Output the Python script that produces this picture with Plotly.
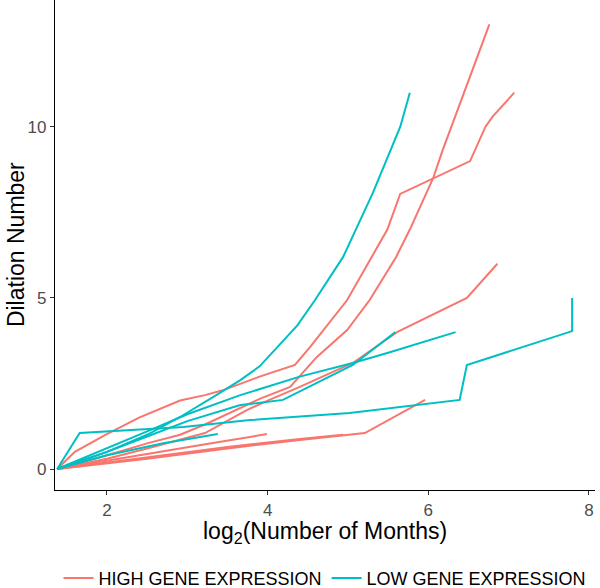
import plotly.graph_objects as go

# ---- data ----
# HIGH GENE EXPRESSION subjects
high_1_x = [1.38, 2.0, 2.5, 2.91, 3.22, 3.66, 3.9, 4.28, 4.61, 4.99, 5.27, 5.6, 5.77, 6.06, 6.18, 6.46, 6.76]
high_1_y = [0, 0.4, 0.75, 1.0, 1.3, 1.78, 2.05, 2.4, 3.27, 4.06, 4.94, 6.2, 7.0, 8.5, 9.33, 11.1, 13.0]
high_2_x = [1.38, 1.6, 1.98, 2.4, 2.91, 3.22, 3.44, 3.9, 4.34, 4.53, 4.99, 5.49, 5.65, 6.52, 6.71, 6.8, 7.07]
high_2_y = [0, 0.5, 1.0, 1.5, 2.0, 2.16, 2.3, 2.7, 3.04, 3.57, 4.94, 7.0, 8.04, 9.0, 10.0, 10.3, 11.0]
high_3_x = [1.38, 2.0, 2.5, 2.91, 3.22, 3.74, 4.0, 4.4, 5.06, 5.61, 6.48, 6.86]
high_3_y = [0, 0.3, 0.6, 0.85, 1.05, 1.72, 2.0, 2.4, 3.1, 4.0, 5.0, 6.0]
high_4_x = [1.38, 2.5, 3.5, 4.4, 5.21, 5.96]
high_4_y = [0, 0.3, 0.6, 0.85, 1.05, 2.02]
high_5_x = [1.38, 2.5, 3.5, 4.4, 4.94]
high_5_y = [0, 0.33, 0.64, 0.88, 1.0]
high_6_x = [1.38, 2.5, 3.3, 3.99]
high_6_y = [0, 0.45, 0.75, 1.02]

# LOW GENE EXPRESSION subjects
low_1_x = [1.38, 2.0, 2.5, 2.91, 3.32, 3.66, 3.9, 4.12, 4.37, 4.59, 4.94, 5.31, 5.65, 5.77]
low_1_y = [0, 0.5, 1.0, 1.52, 2.1, 2.6, 3.0, 3.57, 4.2, 4.94, 6.2, 8.07, 10.0, 11.0]
low_2_x = [1.38, 1.66, 2.95, 3.78, 5.02, 6.39, 6.48, 7.79, 7.79]
low_2_y = [0, 1.05, 1.23, 1.43, 1.64, 2.02, 3.04, 4.03, 5.0]
low_3_x = [1.38, 2.0, 2.5, 3.0, 3.66, 4.4, 5.06, 5.5, 6.34]
low_3_y = [0, 0.6, 1.1, 1.6, 2.16, 2.7, 3.1, 3.4, 4.0]
low_4_x = [1.38, 2.0, 2.5, 3.0, 3.66, 4.19, 4.6, 5.06, 5.59]
low_4_y = [0, 0.5, 0.95, 1.4, 1.87, 2.02, 2.5, 3.04, 4.0]
low_5_x = [1.38, 2.0, 2.7, 3.38]
low_5_y = [0, 0.4, 0.75, 1.02]

high_series = [(high_1_x, high_1_y), (high_2_x, high_2_y), (high_3_x, high_3_y),
               (high_4_x, high_4_y), (high_5_x, high_5_y), (high_6_x, high_6_y)]
low_series = [(low_1_x, low_1_y), (low_2_x, low_2_y), (low_3_x, low_3_y),
              (low_4_x, low_4_y), (low_5_x, low_5_y)]

group_names = ["HIGH GENE EXPRESSION", "LOW GENE EXPRESSION"]
group_colors = ["#F8766D", "#00BFC4"]

x_ticks = [2, 4, 6, 8]
y_ticks = [0, 5, 10]
x_title = "log<sub>2</sub>(Number of Months)"
y_title = "Dilation Number"

FONT = "Liberation Sans, Arial, sans-serif"

fig = go.Figure()
for gi, series in enumerate([high_series, low_series]):
    for si, (xs, ys) in enumerate(series):
        fig.add_trace(go.Scatter(
            x=xs, y=ys, mode="lines",
            line=dict(color=group_colors[gi], width=2),
            name=group_names[gi], legendgroup=group_names[gi],
            showlegend=(si == 0), hoverinfo="skip"))

axis_common = dict(showgrid=False, zeroline=False, showline=True, linecolor="black",
                   linewidth=1.3, ticks="outside", ticklen=4, tickcolor="#333333",
                   tickwidth=1.1, automargin=False,
                   tickfont=dict(family=FONT, size=17, color="#4D4D4D"))

fig.update_layout(
    width=600, height=588,
    paper_bgcolor="white", plot_bgcolor="white",
    margin=dict(l=55, r=5, t=0, b=98, autoexpand=False),
    xaxis=dict(range=[1.353, 8.075], tickvals=x_ticks, **axis_common),
    yaxis=dict(range=[-0.614, 13.71], tickvals=y_ticks, **axis_common),
    legend=dict(orientation="h", x=0.5, xanchor="center", y=-0.18, yanchor="middle",
                font=dict(family=FONT, size=18, color="black"),
                itemwidth=30, tracegroupgap=0, bgcolor="rgba(0,0,0,0)"),
    showlegend=True,
    annotations=[
        dict(text=x_title, xref="paper", yref="paper", x=0.5, y=-0.087,
             xanchor="center", yanchor="middle", showarrow=False,
             font=dict(family=FONT, size=23, color="black")),
        dict(text=y_title, xref="paper", yref="paper", x=-0.072, y=0.5,
             xanchor="center", yanchor="middle", textangle=-90, showarrow=False,
             font=dict(family=FONT, size=23, color="black")),
    ],
)

fig.write_html("out.html", config={"displayModeBar": False},
               post_script="document.body.style.margin='0';")
